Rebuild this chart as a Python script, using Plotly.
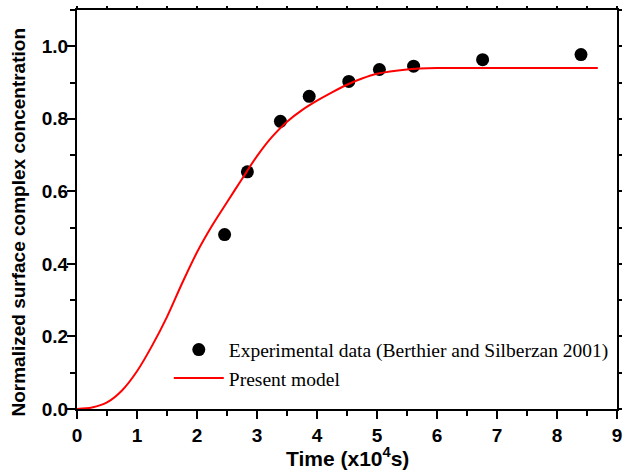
import plotly.graph_objects as go

# Experimental points (time in 1e4 s, normalized concentration)
exp_time = [2.46, 2.84, 3.39, 3.87, 4.53, 5.04, 5.61, 6.76, 8.40]
exp_conc = [0.481, 0.654, 0.793, 0.862, 0.903, 0.936, 0.945, 0.963, 0.977]

# Model curve samples
model_time = [0.0, 0.25, 0.5, 0.75, 1.0, 1.25, 1.5, 1.75, 2.0, 2.25, 2.5, 2.75,
              3.0, 3.25, 3.5, 3.75, 4.0, 4.25, 4.5, 4.75, 5.0, 5.5, 6.0, 6.5,
              7.0, 8.0, 8.68]
model_conc = [0.0, 0.004, 0.018, 0.051, 0.104, 0.174, 0.254, 0.346, 0.432, 0.505,
              0.570, 0.634, 0.697, 0.750, 0.792, 0.824, 0.850, 0.873, 0.894, 0.911,
              0.924, 0.936, 0.940, 0.940, 0.940, 0.940, 0.940]

x_ticks = [0, 1, 2, 3, 4, 5, 6, 7, 8, 9]
y_ticks = [0.0, 0.2, 0.4, 0.6, 0.8, 1.0]

SANS = "Liberation Sans, Arial, sans-serif"
SERIF = "Liberation Serif, Times New Roman, serif"
tick_font = dict(family=SANS, size=19, color="black", weight="bold")

fig = go.Figure()
fig.add_trace(go.Scatter(
    x=exp_time, y=exp_conc, mode="markers",
    marker=dict(symbol="circle", size=13, color="black"),
    name="Experimental data (Berthier and Silberzan 2001)",
))
fig.add_trace(go.Scatter(
    x=model_time, y=model_conc, mode="lines",
    line=dict(color="#ff0000", width=2, shape="spline", smoothing=0.8),
    name="Present model",
))
# invisible anchor so the top/right frame axes get drawn
fig.add_trace(go.Scatter(
    x=[model_time[0]], y=[model_conc[0]], xaxis="x2", yaxis="y2", mode="markers",
    marker=dict(opacity=0), showlegend=False, hoverinfo="skip",
))

axis_common = dict(
    showline=True, linecolor="black", linewidth=2, showgrid=False, zeroline=False,
    ticks="outside", tickcolor="black", tickwidth=1.5, ticklen=8,
)
frame_common = dict(
    showline=True, linecolor="black", linewidth=2, ticks="outside", tickcolor="black",
    tickwidth=1.5, showticklabels=False, showgrid=False, zeroline=False, fixedrange=True,
)

fig.update_layout(
    width=627, height=473,
    margin=dict(l=77, r=5, t=10, b=64),
    paper_bgcolor="white", plot_bgcolor="white",
    xaxis=dict(
        **axis_common, range=[0, 9], tickvals=x_ticks, ticktext=[str(v) for v in x_ticks],
        tickfont=tick_font,
        minor=dict(dtick=0.5, ticks="outside", ticklen=5, tickcolor="black", tickwidth=1.5),
    ),
    yaxis=dict(
        **axis_common, range=[0, 1.1], tickvals=y_ticks, ticktext=[f"{v:.1f}" for v in y_ticks],
        tickfont=tick_font, ticklabelstandoff=-5,
        minor=dict(dtick=0.1, ticks="outside", ticklen=5, tickcolor="black", tickwidth=1.5),
    ),
    xaxis2=dict(**frame_common, overlaying="x", side="top", anchor="y2", range=[0, 9],
                dtick=0.5, ticklen=2),
    yaxis2=dict(**frame_common, overlaying="y", side="right", anchor="x2", range=[0, 1.1],
                dtick=0.1, ticklen=3),
    showlegend=True,
    legend=dict(
        x=0.17, y=0.197, xanchor="left", yanchor="top",
        bgcolor="rgba(0,0,0,0)", borderwidth=0,
        font=dict(family=SERIF, size=19.5, color="black"),
        itemwidth=50, tracegroupgap=0,
    ),
    annotations=[
        dict(text="Time (x10<sup>4</sup>s)", xref="paper", yref="paper", x=0.5, y=-0.158,
             xanchor="center", yanchor="bottom", showarrow=False,
             font=dict(family=SANS, size=21, color="black", weight="bold")),
        dict(text="Normalized surface complex concentration", xref="paper", yref="paper",
             x=-0.108, y=0.469, xanchor="center", yanchor="middle", textangle=-90, showarrow=False,
             font=dict(family=SANS, size=19, color="black", weight="bold")),
    ],
)

fig.write_html("out.html")
